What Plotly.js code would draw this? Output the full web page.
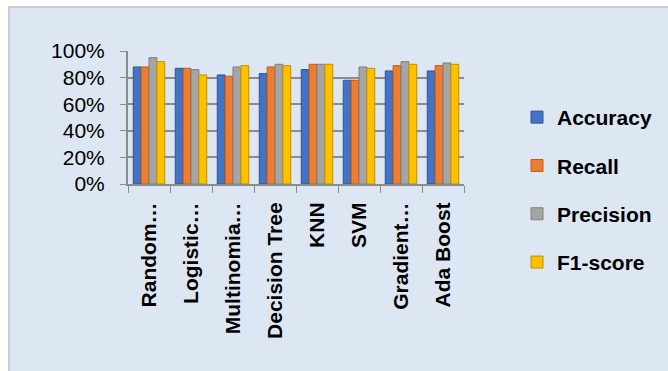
<!DOCTYPE html>
<html><head><meta charset="utf-8">
<script src="https://cdn.plot.ly/plotly-3.0.1.min.js"></script>
<style>html,body{margin:0;padding:0;background:#fff;}#chart{width:668px;height:371px;}</style>
</head><body><div id="chart"></div>
<script>
const categories = ["Random Forest","Logistic Regression","Multinomial NB","Decision Tree","KNN","SVM","Gradient Boosting","Ada Boost"];
const tickLabels = ["Random…","Logistic…","Multinomia…","Decision Tree","KNN","SVM","Gradient…","Ada Boost"];
const accuracy  = [0.88,0.87,0.82,0.83,0.86,0.78,0.85,0.85];
const recall    = [0.88,0.87,0.81,0.88,0.90,0.78,0.89,0.89];
const precision = [0.95,0.86,0.88,0.90,0.90,0.88,0.92,0.91];
const f1score   = [0.92,0.82,0.89,0.89,0.90,0.87,0.90,0.90];
const seriesNames = ["Accuracy","Recall","Precision","F1-score"];
const colors = ["#4472C4","#ED7D31","#A5A5A5","#FFC000"];
const edge = ["#2F5597","#C55A11","#7F7F7F","#BF9000"];
const vals = [accuracy, recall, precision, f1score];

const traces = vals.map((v,i)=>({
  type:"bar", x:categories, y:v, name:seriesNames[i],
  legendgroup:"g"+i,
  marker:{color:colors[i], line:{color:edge[i], width:1}},
  hoverinfo:"y+name"
}));

const layout = {
  width:668, height:371,
  margin:{l:0,r:0,t:0,b:0},
  paper_bgcolor:"#ffffff",
  plot_bgcolor:"rgba(0,0,0,0)",
  barmode:"group", bargap:0.25, bargroupgap:0,
  font:{family:"Liberation Sans, Arial, sans-serif", color:"#000"},
  shapes:[{type:"rect", xref:"paper", yref:"paper", x0:9/668, x1:1.01, y0:-0.01, y1:1-7/371,
           fillcolor:"#dce7f3", line:{color:"#c0c0c0", width:1.5}, layer:"below"}],
  xaxis:{domain:[128/668, 464/668], tickmode:"array", tickvals:categories, ticktext:tickLabels,
         tickangle:-90, tickfont:{size:21, family:"Liberation Sans, Arial, sans-serif", weight:"bold"},
         ticks:"outside", tickson:"boundaries", ticklen:7, tickcolor:"#8c8c8c",
         showline:true, linecolor:"#8c8c8c", linewidth:2, showgrid:false, ticklabelstandoff:8,
         fixedrange:true},
  yaxis:{domain:[(371-184)/371, (371-51)/371], range:[0,1.0], tickformat:".0%", dtick:0.2,
         tickfont:{size:21}, ticks:"outside", ticklen:6, tickcolor:"#8c8c8c",
         showline:true, linecolor:"#8c8c8c", linewidth:2,
         showgrid:true, gridcolor:"#8c8c8c", gridwidth:2, zeroline:false, ticklabelstandoff:11,
         fixedrange:true},
  showlegend:true,
  legend:{x:517/668, xanchor:"left", y:1-97/371, yanchor:"top", traceorder:"grouped",
          tracegroupgap:18, bgcolor:"rgba(0,0,0,0)",
          font:{size:21, family:"Liberation Sans, Arial, sans-serif", weight:"bold"}}
};
Plotly.newPlot("chart", traces, layout, {displayModeBar:false, staticPlot:true});
</script></body></html>
